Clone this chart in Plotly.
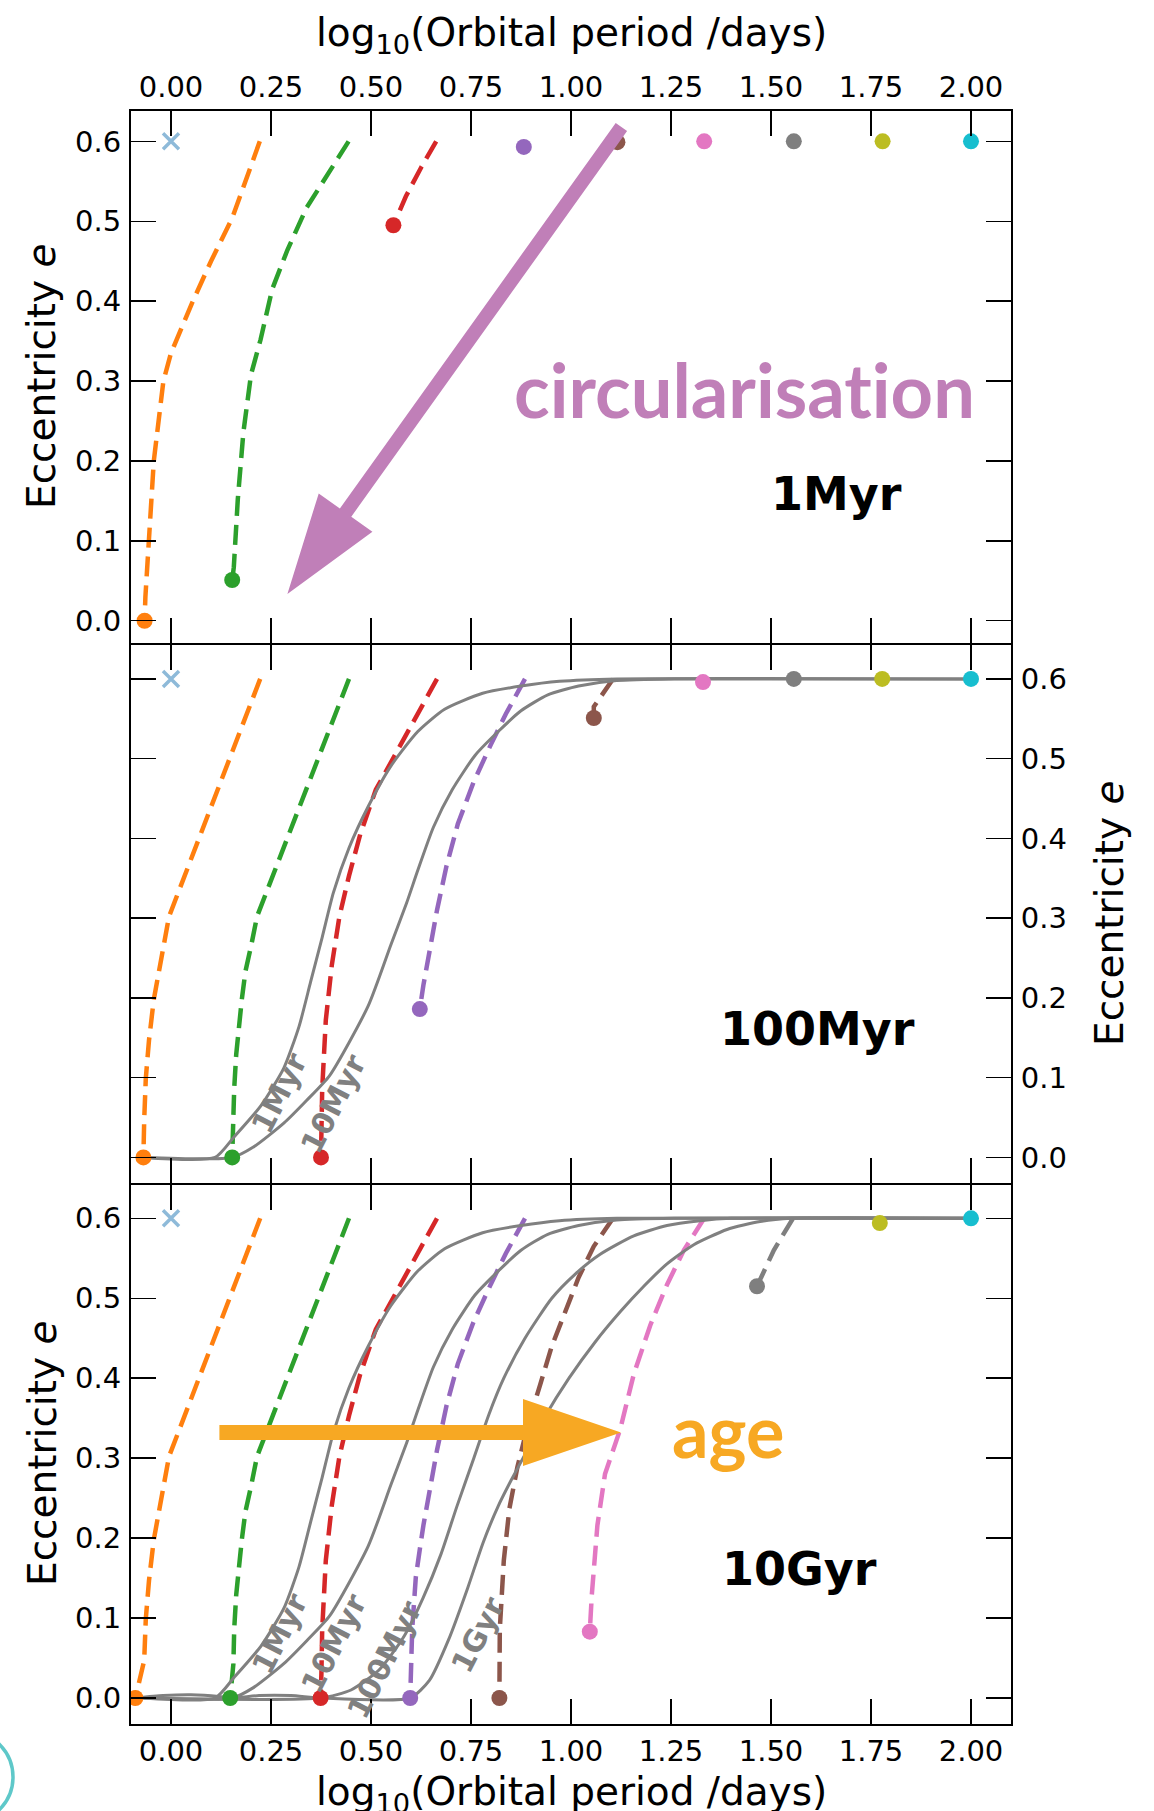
import numpy as np
import plotly.graph_objects as go

# ------------------------------------------------------------------ data
LOGP_TICKS = [0.0, 0.25, 0.5, 0.75, 1.0, 1.25, 1.5, 1.75, 2.0]
LOGP_TICK_TEXT = ["0.00", "0.25", "0.50", "0.75", "1.00", "1.25", "1.50", "1.75", "2.00"]
E_TICKS = [0.0, 0.1, 0.2, 0.3, 0.4, 0.5, 0.6]
E_TICK_TEXT = ["0.0", "0.1", "0.2", "0.3", "0.4", "0.5", "0.6"]

PANEL_AGES = ["1Myr", "100Myr", "10Gyr"]
SYSTEMS = ["orange", "green", "red", "purple", "brown", "pink", "gray", "olive", "cyan"]
SYSTEM_COLORS = ["#ff7f0e", "#2ca02c", "#d62728", "#9467bd", "#8c564b",
                 "#e377c2", "#7f7f7f", "#bcbd22", "#17becf"]

# merged / destroyed system (cross)
MERGED_X = [0.0]
MERGED_E = [0.6]

# end positions (dots) of each system at the panel age
END_1MYR_X = [-0.066, 0.153, 0.556, 0.882, 1.116, 1.333, 1.557, 1.779, 2.0]
END_1MYR_E = [0.0, 0.051, 0.495, 0.593, 0.599, 0.6, 0.6, 0.6, 0.6]
END_100MYR_X = [-0.069, 0.153, 0.375, 0.622, 1.057, 1.330, 1.557, 1.778, 2.0]
END_100MYR_E = [0.0, 0.0, 0.0, 0.186, 0.551, 0.596, 0.6, 0.6, 0.6]
END_10GYR_X = [-0.089, 0.148, 0.374, 0.598, 0.821, 1.047, 1.465, 1.772, 2.0]
END_10GYR_E = [0.0, 0.0, 0.0, 0.0, 0.0, 0.083, 0.515, 0.594, 0.6]

# evolutionary tracks, 1 Myr run
T1_ORANGE_X = [0.222, 0.186, 0.153, 0.100, 0.052, 0.0, -0.019, -0.043, -0.057, -0.064, -0.066]
T1_ORANGE_E = [0.6, 0.549, 0.504, 0.450, 0.397, 0.335, 0.300, 0.200, 0.100, 0.030, 0.0]
T1_GREEN_X = [0.444, 0.396, 0.339, 0.291, 0.253, 0.224, 0.200, 0.181, 0.167, 0.157, 0.153]
T1_GREEN_E = [0.6, 0.562, 0.517, 0.464, 0.415, 0.352, 0.308, 0.236, 0.152, 0.067, 0.051]
T1_RED_X = [0.663, 0.625, 0.587, 0.556]
T1_RED_E = [0.6, 0.567, 0.531, 0.495]

# evolutionary tracks, long runs (100 Myr panel shows them up to its end points)
T_ORANGE_X = [0.223, -0.005, -0.024, -0.043, -0.055, -0.063, -0.067, -0.069, -0.089]
T_ORANGE_E = [0.6, 0.302, 0.250, 0.198, 0.147, 0.099, 0.047, 0.0, 0.0]
T_GREEN_X = [0.445, 0.215, 0.201, 0.186, 0.177, 0.167, 0.163, 0.158, 0.156, 0.153, 0.148]
T_GREEN_E = [0.6, 0.302, 0.267, 0.233, 0.198, 0.151, 0.129, 0.086, 0.043, 0.0, 0.0]
T_RED_X = [0.665, 0.607, 0.559, 0.512, 0.473, 0.445, 0.421, 0.402, 0.387, 0.378, 0.376, 0.374]
T_RED_E = [0.6, 0.547, 0.504, 0.461, 0.405, 0.353, 0.302, 0.241, 0.172, 0.086, 0.030, 0.0]
T_PURPLE_X = [0.885, 0.837, 0.799, 0.756, 0.717, 0.689, 0.665, 0.646, 0.631, 0.622, 0.612, 0.603, 0.599, 0.598]
T_PURPLE_E = [0.6, 0.556, 0.517, 0.470, 0.418, 0.366, 0.310, 0.259, 0.216, 0.186, 0.151, 0.086, 0.030, 0.0]
T_BROWN_X = [1.105, 1.057, 1.019, 0.985, 0.952, 0.923, 0.894, 0.866, 0.846, 0.832, 0.822, 0.821]
T_BROWN_E = [0.6, 0.565, 0.526, 0.483, 0.440, 0.392, 0.345, 0.289, 0.237, 0.172, 0.086, 0.0]
T_PINK_X = [1.333, 1.315, 1.282, 1.240, 1.198, 1.157, 1.123, 1.085, 1.066, 1.052, 1.047]
T_PINK_E = [0.6, 0.586, 0.560, 0.517, 0.466, 0.405, 0.336, 0.280, 0.216, 0.129, 0.083]
T_GRAY_X = [1.555, 1.507, 1.465]
T_GRAY_E = [0.6, 0.560, 0.515]

# isochrones (grey solid curves)
ISO_NAMES = ["1Myr", "10Myr", "100Myr", "1Gyr"]
ISO_1MYR_X = [-0.069, 0.110, 0.158, 0.225, 0.282, 0.320, 0.349, 0.378, 0.406, 0.445,
              0.493, 0.550, 0.617, 0.684, 0.779, 0.875, 0.971, 1.114, 2.0]
ISO_1MYR_E = [0.0, 0.0, 0.026, 0.065, 0.112, 0.164, 0.220, 0.276, 0.332, 0.388,
              0.440, 0.491, 0.534, 0.562, 0.582, 0.591, 0.597, 0.6, 0.6]
ISO_10MYR_X = [-0.069, 0.153, 0.206, 0.282, 0.340, 0.397, 0.493, 0.550, 0.589, 0.617,
               0.656, 0.703, 0.760, 0.818, 0.875, 0.942, 1.019, 1.114, 1.258, 2.0]
ISO_10MYR_E = [0.0, 0.0, 0.013, 0.043, 0.072, 0.103, 0.190, 0.267, 0.319, 0.360,
               0.414, 0.461, 0.504, 0.534, 0.560, 0.580, 0.591, 0.598, 0.6, 0.6]
ISO_100MYR_X = [-0.089, 0.375, 0.450, 0.520, 0.580, 0.630, 0.675, 0.715, 0.757, 0.795,
                0.832, 0.885, 0.952, 1.010, 1.073, 1.157, 1.240, 1.323, 1.400, 2.0]
ISO_100MYR_E = [0.0, 0.0, 0.010, 0.035, 0.075, 0.125, 0.180, 0.240, 0.300, 0.355,
                0.400, 0.450, 0.500, 0.530, 0.555, 0.578, 0.591, 0.597, 0.6, 0.6]
ISO_1GYR_X = [-0.089, -0.020, 0.050, 0.120, 0.153, 0.220, 0.300, 0.375, 0.598, 0.646,
              0.694, 0.742, 0.780, 0.818, 0.850, 0.880, 0.935, 0.995, 1.060, 1.123,
              1.182, 1.240, 1.307, 1.390, 1.473, 1.550, 2.0]
ISO_1GYR_E = [0.0, 0.003, 0.004, 0.002, 0.0, 0.003, 0.003, 0.0, 0.0, 0.022,
              0.073, 0.138, 0.194, 0.240, 0.272, 0.300, 0.352, 0.400, 0.445, 0.483,
              0.515, 0.543, 0.567, 0.586, 0.596, 0.6, 0.6]

# isochrone label anchor points (panel 2 and panel 3)
ISO_LABEL_P2_X = [0.270, 0.404]
ISO_LABEL_P2_E = [0.080, 0.067]
ISO_LABEL_P3_X = [0.270, 0.407, 0.534, 0.768]
ISO_LABEL_P3_E = [0.080, 0.068, 0.048, 0.079]

# panel age label positions
AGE_LABEL_X = [1.664, 1.617, 1.571]
AGE_LABEL_E = [0.159, 0.161, 0.161]

# annotation arrows (tail, tip) in data units
CIRC_ARROW = [(1.126, 0.618), (0.291, 0.0335)]
AGE_ARROW = [(0.121, 0.332), (1.125, 0.332)]
CIRC_TEXT_POS = (1.434, 0.289)
AGE_TEXT_POS = (1.393, 0.335)

# ------------------------------------------------------------------ layout constants
W, H = 1154, 1811
M_L, M_R, M_T, M_B = 131, 143, 111, 87
PW, PH = W - M_L - M_R, H - M_T - M_B
X_RANGE = [-0.1, 2.1]
Y_RANGES = [[-0.0274, 0.638], [-0.032, 0.643], [-0.0325, 0.6417]]
GAP = 2.0 / PH   # room for the shared spine between stacked panels
DOMAINS = [[0.6698 + GAP / 2, 1.0], [0.3348 + GAP / 2, 0.6698 - GAP / 2], [0.0, 0.3348 - GAP / 2]]

TICK_FONT = dict(family="DejaVu Sans", size=29, color="black")
TITLE_FONT = dict(family="DejaVu Sans", size=39, color="black")
GREY = "#808080"
CIRC_COLOR = "#c07fb8"
AGE_COLOR = "#f7a823"

fig = go.Figure()

def axn(i):
    return "" if i == 0 else str(i + 1)

def truncate(tx, te, ex, ee):
    xs, es = [], []
    for x, e in zip(tx, te):
        if e > ee + 1e-9:
            xs.append(x); es.append(e)
    xs.append(ex); es.append(ee)
    return xs, es

DASH = "20px,9px"

def add_track(p, xs, es, color):
    fig.add_trace(go.Scatter(x=xs, y=es, mode="lines",
                             line=dict(color=color, width=4.5, dash=DASH),
                             xaxis="x" + axn(p), yaxis="y" + axn(p),
                             hoverinfo="skip", showlegend=False))

LONG_TRACKS = {
    "orange": (T_ORANGE_X, T_ORANGE_E), "green": (T_GREEN_X, T_GREEN_E),
    "red": (T_RED_X, T_RED_E), "purple": (T_PURPLE_X, T_PURPLE_E),
    "brown": (T_BROWN_X, T_BROWN_E), "pink": (T_PINK_X, T_PINK_E),
    "gray": (T_GRAY_X, T_GRAY_E),
}
ISOS = {"1Myr": (ISO_1MYR_X, ISO_1MYR_E), "10Myr": (ISO_10MYR_X, ISO_10MYR_E),
        "100Myr": (ISO_100MYR_X, ISO_100MYR_E), "1Gyr": (ISO_1GYR_X, ISO_1GYR_E)}

ENDS = [(END_1MYR_X, END_1MYR_E), (END_100MYR_X, END_100MYR_E), (END_10GYR_X, END_10GYR_E)]

# panel 1 tracks
for name, xs, es in [("orange", T1_ORANGE_X, T1_ORANGE_E),
                     ("green", T1_GREEN_X, T1_GREEN_E),
                     ("red", T1_RED_X, T1_RED_E)]:
    add_track(0, xs, es, SYSTEM_COLORS[SYSTEMS.index(name)])

# panel 2 / 3 tracks
for p in (1, 2):
    ex, ee = ENDS[p]
    for i, name in enumerate(SYSTEMS):
        if name not in LONG_TRACKS or ee[i] >= 0.6:
            continue
        tx, te = LONG_TRACKS[name]
        xs, es = truncate(tx, te, ex[i], ee[i])
        if len(xs) > 1:
            add_track(p, xs, es, SYSTEM_COLORS[i])

# isochrones
PANEL_ISOS = [[], ["1Myr", "10Myr"], ["1Myr", "10Myr", "100Myr", "1Gyr"]]
for p, names in enumerate(PANEL_ISOS):
    for n in names:
        xs, es = ISOS[n]
        fig.add_trace(go.Scatter(x=xs, y=es, mode="lines",
                                 line=dict(color=GREY, width=3, shape="spline", smoothing=0.6),
                                 xaxis="x" + axn(p), yaxis="y" + axn(p),
                                 hoverinfo="skip", showlegend=False))

# end-point dots and merged cross
for p in range(3):
    ex, ee = ENDS[p]
    fig.add_trace(go.Scatter(x=ex, y=ee, mode="markers",
                             marker=dict(color=SYSTEM_COLORS, size=16, line=dict(width=0)),
                             xaxis="x" + axn(p), yaxis="y" + axn(p),
                             hoverinfo="skip", showlegend=False))
    fig.add_trace(go.Scatter(x=MERGED_X, y=MERGED_E, mode="markers",
                             marker=dict(symbol="x-thin", size=16, color="#8ebad9",
                                         line=dict(color="#8ebad9", width=3.5)),
                             xaxis="x" + axn(p), yaxis="y" + axn(p),
                             hoverinfo="skip", showlegend=False))

# ---------------------------------------------------------------- arrows
def panel_scales(p):
    sx = PW / (X_RANGE[1] - X_RANGE[0])
    hpx = PH * (DOMAINS[p][1] - DOMAINS[p][0])
    sy = hpx / (Y_RANGES[p][1] - Y_RANGES[p][0])
    return sx, sy

def arrow_polygon(tail, tip, shaft_w, head_w, head_len, p):
    sx, sy = panel_scales(p)
    tx, ty = tail[0] * sx, tail[1] * sy
    px, py = tip[0] * sx, tip[1] * sy
    dx, dy = px - tx, py - ty
    L = np.hypot(dx, dy)
    ux, uy = dx / L, dy / L
    nx, ny = -uy, ux
    bx, by = px - ux * head_len, py - uy * head_len
    pts = [(tx + nx * shaft_w / 2, ty + ny * shaft_w / 2),
           (bx + nx * shaft_w / 2, by + ny * shaft_w / 2),
           (bx + nx * head_w / 2, by + ny * head_w / 2),
           (px, py),
           (bx - nx * head_w / 2, by - ny * head_w / 2),
           (bx - nx * shaft_w / 2, by - ny * shaft_w / 2),
           (tx - nx * shaft_w / 2, ty - ny * shaft_w / 2)]
    return "M " + " L ".join(f"{x / sx:.5f},{y / sy:.5f}" for x, y in pts) + " Z"

shapes = []
shapes.append(dict(type="path", xref="x", yref="y",
                   path=arrow_polygon(CIRC_ARROW[0], CIRC_ARROW[1], 14, 66, 100, 0),
                   fillcolor=CIRC_COLOR, line=dict(width=0), layer="above"))
shapes.append(dict(type="path", xref="x3", yref="y3",
                   path=arrow_polygon(AGE_ARROW[0], AGE_ARROW[1], 15, 67, 98, 2),
                   fillcolor=AGE_COLOR, line=dict(width=0), layer="above"))

def px2paper_x(px):
    return (px - M_L) / PW
def px2paper_y(py):
    return (H - M_B - py) / PH

# decorative cyan arc at the bottom-left corner of the slide
shapes.append(dict(type="circle", xref="paper", yref="paper",
                   x0=px2paper_x(-79), x1=px2paper_x(13),
                   y0=px2paper_y(1823), y1=px2paper_y(1731),
                   line=dict(color="#5ec8c9", width=3.5), fillcolor="rgba(0,0,0,0)"))

# ---------------------------------------------------------------- annotations
NOLIG = "font-variant-ligatures:none;font-feature-settings:'liga' 0,'clig' 0"
ann = []
ann.append(dict(text='<span style="' + NOLIG + '">circularisation</span>',
                x=CIRC_TEXT_POS[0], y=CIRC_TEXT_POS[1],
                xref="x", yref="y", showarrow=False, xanchor="center", yanchor="middle",
                font=dict(family="Lato", size=74, color=CIRC_COLOR, weight="bold")))
ann.append(dict(text="age", x=AGE_TEXT_POS[0], y=AGE_TEXT_POS[1],
                xref="x3", yref="y3", showarrow=False, xanchor="center", yanchor="middle",
                font=dict(family="Lato", size=72, color=AGE_COLOR, weight="bold")))
for p in range(3):
    ann.append(dict(text="<b>" + PANEL_AGES[p] + "</b>", x=AGE_LABEL_X[p], y=AGE_LABEL_E[p],
                    xref="x" + axn(p), yref="y" + axn(p), showarrow=False,
                    xanchor="center", yanchor="middle",
                    font=dict(family="DejaVu Sans", size=46, color="black")))
for p, lx, le in [(1, ISO_LABEL_P2_X, ISO_LABEL_P2_E), (2, ISO_LABEL_P3_X, ISO_LABEL_P3_E)]:
    for k, (x, e) in enumerate(zip(lx, le)):
        ann.append(dict(text="<b>" + ISO_NAMES[k] + "</b>", x=x, y=e,
                        xref="x" + axn(p), yref="y" + axn(p), showarrow=False,
                        textangle=-63, xanchor="center", yanchor="middle",
                        font=dict(family="DejaVu Sans", size=30, color=GREY)))

XTITLE = "log<sub>10</sub>(Orbital period /days)"
YTITLE = "Eccentricity <i>e</i>"
ann.append(dict(text=XTITLE, x=0.5, y=px2paper_y(35), xref="paper", yref="paper",
                showarrow=False, xanchor="center", yanchor="middle", font=TITLE_FONT))
ann.append(dict(text=XTITLE, x=0.5, y=px2paper_y(1794), xref="paper", yref="paper",
                showarrow=False, xanchor="center", yanchor="middle", font=TITLE_FONT))
ann.append(dict(text=YTITLE, x=px2paper_x(42), y=px2paper_y(377), xref="paper", yref="paper",
                showarrow=False, xanchor="center", yanchor="middle", textangle=-90, font=TITLE_FONT))
ann.append(dict(text=YTITLE, x=px2paper_x(42), y=px2paper_y(1454), xref="paper", yref="paper",
                showarrow=False, xanchor="center", yanchor="middle", textangle=-90, font=TITLE_FONT))
ann.append(dict(text=YTITLE, x=px2paper_x(1109), y=px2paper_y(914), xref="paper", yref="paper",
                showarrow=False, xanchor="center", yanchor="middle", textangle=-90, font=TITLE_FONT))

# ---------------------------------------------------------------- axes
layout = dict(width=W, height=H, margin=dict(l=M_L, r=M_R, t=M_T, b=M_B),
              paper_bgcolor="white", plot_bgcolor="white", showlegend=False,
              hovermode=False, shapes=shapes, annotations=ann)

X_SIDES = ["top", "bottom", "bottom"]
X_LABELS = [True, False, True]
Y_SIDES = ["left", "right", "left"]
for p in range(3):
    layout["xaxis" + axn(p)] = dict(
        domain=[0, 1], range=X_RANGE, anchor="y" + axn(p), side=X_SIDES[p],
        tickvals=LOGP_TICKS, ticktext=LOGP_TICK_TEXT, showticklabels=X_LABELS[p],
        ticks="inside", ticklen=25, tickwidth=1.5, tickcolor="black",
        showline=True, linewidth=2, linecolor="black", mirror="ticks",
        showgrid=False, zeroline=False, tickfont=TICK_FONT, automargin=False,
        ticklabelstandoff=0)
    layout["yaxis" + axn(p)] = dict(
        domain=DOMAINS[p], range=Y_RANGES[p], anchor="x" + axn(p), side=Y_SIDES[p],
        tickvals=E_TICKS, ticktext=E_TICK_TEXT,
        ticks="inside", ticklen=25, tickwidth=1.5, tickcolor="black",
        showline=True, linewidth=2, linecolor="black", mirror="ticks",
        showgrid=False, zeroline=False, tickfont=TICK_FONT, automargin=False,
        ticklabelstandoff=2)

fig.update_layout(**layout)
# remove the browser's default 8px page margin so the figure sits at the window origin
fig.write_html("out.html", config={"displayModeBar": False, "staticPlot": True},
               post_script="document.body.style.margin='0px';")
